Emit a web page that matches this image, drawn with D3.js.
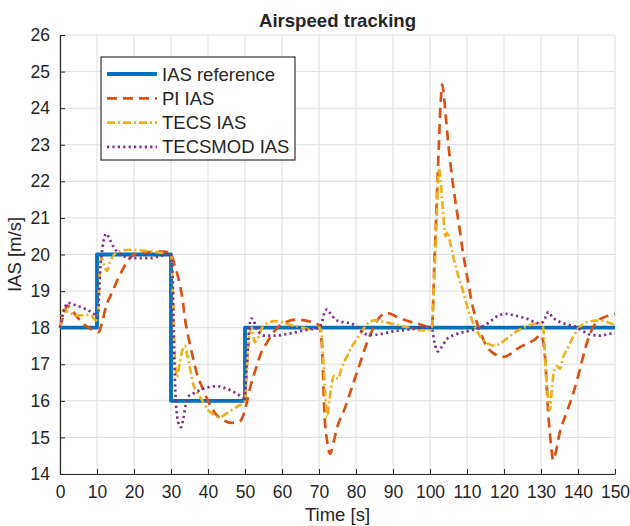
<!DOCTYPE html>
<html>
<head>
<meta charset="utf-8">
<script src="https://cdn.jsdelivr.net/npm/d3@7"></script>
<style>
  html, body { margin: 0; padding: 0; background: #ffffff; }
  svg text { font-family: "Liberation Sans", Arial, Helvetica, sans-serif; fill: #262626; }
</style>
</head>
<body>
<svg id="chart" width="630" height="526"></svg>
<script>
// Airspeed reference step profile
const refT   = [0, 10, 10, 30, 30, 50, 50, 150];
const refIAS = [18, 18, 20, 20, 16, 16, 18, 18];

// PI controller response
const piT = [0, 1, 2, 3, 5, 7, 9, 10.5, 11.5, 12.5, 14, 15.5, 17, 18.5, 20, 22, 25, 28, 29.8,
  31, 32, 33, 34, 35, 36, 37, 38.5, 40, 42, 44, 46.5, 48.5, 49.5, 50.5, 51.5, 53, 54.5, 56, 57.5,
  59, 61, 64, 67, 70, 70.8, 71.5, 72.2, 73, 74, 75, 77, 79, 81, 83, 84.5, 86.5, 88.5, 91, 94, 97,
  99.5, 100.5, 101.2, 101.8, 102.4, 102.9, 103.3, 103.8, 104.5, 105.5, 106.5, 107.7, 109, 110.2,
  111.5, 112.5, 113.5, 114.5, 116, 118, 120, 122, 124, 126, 128, 130, 131, 132, 132.7, 133.3, 134,
  135, 137, 139, 140.5, 142, 144, 145.5, 148, 150];
const piIAS = [18, 18.35, 18.6, 18.5, 18.25, 18.05, 17.93, 17.88, 18.2, 18.6, 18.95, 19.3, 19.6, 19.85, 20.0, 20.05, 20.07, 20.08, 20.05,
  19.7, 19.35, 18.85, 18.1, 17.6, 17.15, 16.75, 16.35, 16.0, 15.65, 15.48, 15.4, 15.43, 15.6, 15.95, 16.4, 16.9, 17.35, 17.6, 17.85,
  18.02, 18.15, 18.22, 18.18, 18.07, 17.5, 15.6, 14.9, 14.55, 14.9, 15.3, 15.8, 16.4, 17.0, 17.6, 17.95, 18.3, 18.4, 18.3, 18.18, 18.1,
  18.02, 18.0, 19.8, 21.4, 23.0, 24.2, 24.65, 24.3, 23.5, 22.5, 21.7, 20.9, 20.0, 19.3,
  18.6, 18.2, 17.9, 17.65, 17.4, 17.25, 17.2, 17.3, 17.45, 17.55, 17.65, 17.8, 17.3, 15.6, 14.8, 14.38, 14.6,
  15.1, 15.7, 16.3, 16.85, 17.45, 18.0, 18.2, 18.32, 18.38];

// TECS controller response
const tecsT = [0, 1, 1.8, 3, 5, 7, 8.5, 9.7, 10.2, 10.8, 11.3, 12, 12.7, 13.5, 14.5, 16, 19, 23, 27, 30,
  30.5, 31, 31.6, 32.3, 33, 33.7, 34.5, 35.3, 36, 37, 38.5, 40, 41.5, 43, 44.5, 46, 48, 50,
  50.6, 51.2, 51.8, 52.6, 53.4, 54.5, 56, 58, 60, 62, 65, 68, 70, 70.6, 71.2, 71.7, 72.2, 72.8, 73.5,
  74.2, 75.1, 76, 77.5, 79, 81, 83, 85, 88, 91, 94, 97, 100, 100.5, 101.2, 101.8, 102.4, 102.9, 103.5,
  104.2, 104.8, 105.5, 106.5, 107.7, 108.8, 110, 111, 112, 113, 114.5, 116, 117.5, 119, 121, 123, 125,
  127, 129.7, 130.6, 131.2, 131.8, 132.4, 133, 133.6, 134.3, 135.1, 136, 137.4, 138.7, 140.5, 142.8,
  145.9, 148, 150];
const tecsIAS = [18, 18.5, 18.45, 18.38, 18.33, 18.35, 18.32, 18.2, 18.3, 19.6, 19.9, 19.7, 19.55, 19.8, 19.98, 20.08, 20.13, 20.1, 20.05, 20.0,
  19.0, 17.3, 16.65, 17.0, 17.35, 17.5, 17.2, 16.8, 16.45, 16.25, 16.0, 15.75, 15.62, 15.55, 15.62, 15.72, 15.85, 16.0,
  17.0, 17.8, 18.0, 17.6, 17.7, 17.98, 18.12, 18.18, 18.15, 18.08, 18.02, 17.95, 18.0, 17.9, 17.0, 16.2, 15.55, 16.0, 16.5,
  16.7, 16.6, 16.85, 17.2, 17.5, 17.8, 18.1, 18.2, 18.15, 18.08, 18.0, 17.93, 17.93, 18.0, 19.5, 21.0, 22.35, 22.0, 21.2,
  20.5, 20.62, 20.3, 19.85, 19.4, 19.05, 18.6, 18.3, 18.05, 17.85, 17.65, 17.55, 17.5, 17.57, 17.72, 17.88, 17.98,
  18.07, 18.12, 18.0, 17.0, 16.2, 15.75, 16.4, 16.85, 16.95, 16.88, 17.2, 17.48, 17.75, 18.02, 18.16,
  18.2, 18.15, 18.07];

// Modified TECS controller response
const tecsmodT = [0, 1, 2.2, 4, 6, 8, 9.5, 10.2, 10.8, 11.5, 12.5, 13.5, 14.5, 16, 18, 21, 24, 27, 29.8,
  30.4, 30.8, 31.3, 32, 32.7, 33.3, 34, 35, 36.5, 38.5, 40.5, 42.5, 44.5, 46.5, 48.5, 49.8,
  50.4, 51, 51.7, 52.3, 53, 54, 55.5, 58, 61, 64, 67, 70, 70.8, 71.5, 72.2, 73, 74.5, 76.5, 78.5,
  80.5, 82, 84, 87, 90, 93, 96, 99, 100.5, 101.2, 102.2, 103, 104.5, 106, 108, 110, 112, 114, 116,
  118, 120.5, 123, 126, 129.5, 130.5, 131.5, 132, 133, 135, 137.5, 139.5, 141.5, 143, 146, 148, 150];
const tecsmodIAS = [18, 18.45, 18.68, 18.62, 18.55, 18.45, 18.35, 18.3, 19.5, 20.2, 20.57, 20.4, 20.2, 20.03, 19.93, 19.9, 19.9, 19.95, 20.03,
  19.5, 17.5, 16.0, 15.4, 15.28, 15.5, 15.9, 16.15, 16.22, 16.33, 16.38, 16.4, 16.35, 16.27, 16.15, 16.08,
  16.8, 17.8, 18.25, 18.2, 18.0, 17.85, 17.78, 17.78, 17.82, 17.88, 17.95, 18.0, 18.15, 18.42, 18.5, 18.4, 18.22, 18.15, 18.12,
  18.0, 17.85, 17.8, 17.83, 17.9, 17.93, 17.98, 18.02, 18.0, 17.6, 17.35, 17.45, 17.68, 17.78, 17.85, 17.9, 17.95, 18.02, 18.15,
  18.3, 18.38, 18.33, 18.25, 18.12, 18.15, 18.35, 18.43, 18.3, 18.16, 18.08, 18.02, 17.9, 17.82, 17.78, 17.82, 17.85];

const xTicks = d3.range(0, 151, 10);
const yTicks = d3.range(14, 27, 1);
const seriesNames = ["IAS reference", "PI IAS", "TECS IAS", "TECSMOD IAS"];

const series = [
  { name: seriesNames[0], t: refT, v: refIAS, color: "#0072BD", width: 3.8, dash: null, curve: d3.curveLinear },
  { name: seriesNames[1], t: piT, v: piIAS, color: "#D95319", width: 2.7, dash: "10,6", curve: d3.curveMonotoneX },
  { name: seriesNames[2], t: tecsT, v: tecsIAS, color: "#EDB120", width: 2.7, dash: "8,3,2,3", curve: d3.curveMonotoneX },
  { name: seriesNames[3], t: tecsmodT, v: tecsmodIAS, color: "#7E2F8E", width: 2.7, dash: "2.2,3.2", curve: d3.curveMonotoneX }
];

const svg = d3.select("#chart");
const plot = { left: 60, right: 615, top: 35, bottom: 474 };

const x = d3.scaleLinear().domain([0, 150]).range([plot.left, plot.right]);
const y = d3.scaleLinear().domain([14, 26]).range([plot.bottom, plot.top]);

// grid
const grid = svg.append("g");
grid.selectAll("line.gx").data(xTicks).join("line")
  .attr("x1", d => x(d)).attr("x2", d => x(d))
  .attr("y1", plot.top).attr("y2", plot.bottom)
  .attr("stroke", "#dedede").attr("stroke-width", 1);
grid.selectAll("line.gy").data(yTicks).join("line")
  .attr("x1", plot.left).attr("x2", plot.right)
  .attr("y1", d => y(d)).attr("y2", d => y(d))
  .attr("stroke", "#dedede").attr("stroke-width", 1);

// axes with inward ticks
const xAxis = svg.append("g").attr("transform", `translate(0,${plot.bottom})`)
  .call(d3.axisBottom(x).tickValues(xTicks).tickSizeInner(-5).tickSizeOuter(0).tickPadding(12));
const yAxis = svg.append("g").attr("transform", `translate(${plot.left},0)`)
  .call(d3.axisLeft(y).tickValues(yTicks).tickSizeInner(-5).tickSizeOuter(0).tickPadding(10));
[xAxis, yAxis].forEach(a => {
  a.select(".domain").attr("stroke", "#262626").attr("stroke-width", 1.2);
  a.selectAll(".tick line").attr("stroke", "#262626").attr("stroke-width", 1);
  a.selectAll(".tick text").attr("font-size", 17.5).attr("fill", "#262626")
    .style("font-family", '"Liberation Sans", Arial, sans-serif');
});

// data lines
const lines = svg.append("g");
series.forEach(s => {
  const pts = s.t.map((t, i) => [t, s.v[i]]);
  const gen = d3.line().x(d => x(d[0])).y(d => y(d[1])).curve(s.curve);
  lines.append("path")
    .attr("d", gen(pts))
    .attr("fill", "none")
    .attr("stroke", s.color)
    .attr("stroke-width", s.width)
    .attr("stroke-dasharray", s.dash)
    .attr("stroke-linejoin", "round");
});

// title and axis labels
svg.append("text").attr("x", (plot.left + plot.right) / 2).attr("y", 27)
  .attr("text-anchor", "middle").attr("font-size", 18.6).attr("font-weight", "bold")
  .attr("fill", "#000").text("Airspeed tracking");
svg.append("text").attr("x", (plot.left + plot.right) / 2).attr("y", 521)
  .attr("text-anchor", "middle").attr("font-size", 18.5).text("Time [s]");
svg.append("text").attr("transform", `translate(21,${(plot.top + plot.bottom) / 2}) rotate(-90)`)
  .attr("text-anchor", "middle").attr("font-size", 18.5).text("IAS [m/s]");

// legend
const leg = svg.append("g").attr("transform", "translate(101,57)");
leg.append("rect").attr("width", 194).attr("height", 103)
  .attr("fill", "#fff").attr("stroke", "#333").attr("stroke-width", 1.2);
series.forEach((s, i) => {
  const ly = 17 + i * 24.3;
  leg.append("line").attr("x1", 6).attr("x2", 56).attr("y1", ly).attr("y2", ly)
    .attr("stroke", s.color).attr("stroke-width", s.width)
    .attr("stroke-dasharray", s.dash);
  leg.append("text").attr("x", 61).attr("y", ly + 6.5).attr("font-size", 18.5).text(s.name);
});
</script>
</body>
</html>
